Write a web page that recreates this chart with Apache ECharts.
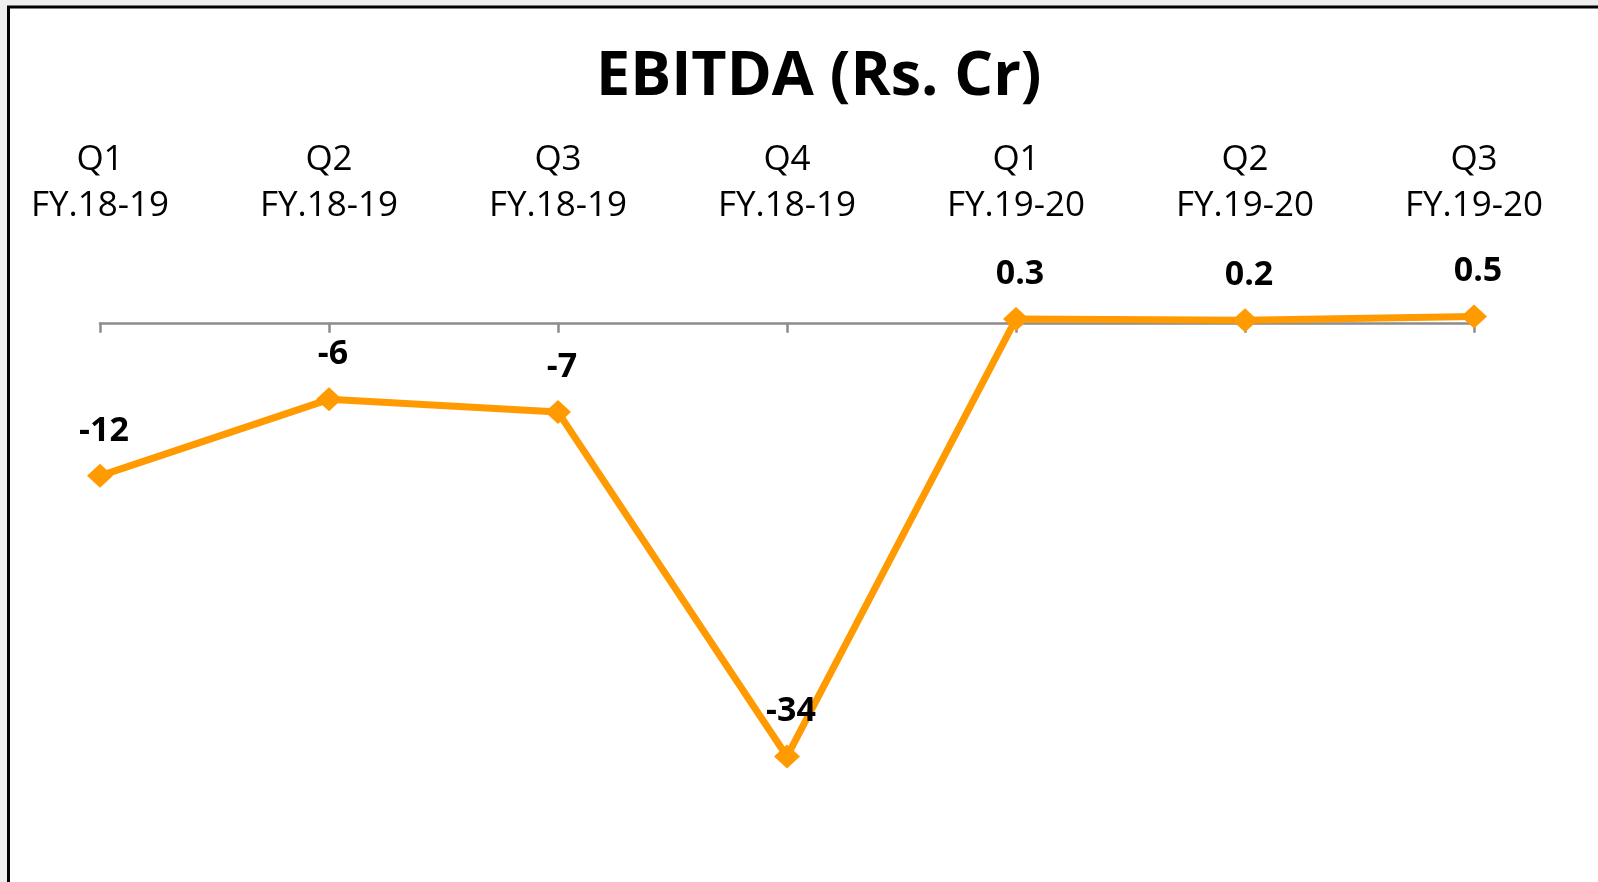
<!DOCTYPE html>
<html>
<head>
<meta charset="utf-8">
<title>EBITDA (Rs. Cr)</title>
<script src="https://cdn.jsdelivr.net/npm/echarts@6/dist/echarts.min.js"></script>
<style>
  html, body { margin: 0; padding: 0; background: #eeeeee; }
  #chart { width: 1598px; height: 882px; }
</style>
</head>
<body>
<div id="chart"></div>
<script>
// Quarterly EBITDA, Rs. crore
const quarters = ['Q1', 'Q2', 'Q3', 'Q4', 'Q1', 'Q2', 'Q3'];
const fiscalYears = ['FY.18-19', 'FY.18-19', 'FY.18-19', 'FY.18-19', 'FY.19-20', 'FY.19-20', 'FY.19-20'];
const ebitda = [-12, -6, -7, -34, 0.3, 0.2, 0.5];

const categories = quarters.map((q, i) => q + '\n' + fiscalYears[i]);

const chart = echarts.init(document.getElementById('chart'), null, { renderer: 'canvas' });

chart.setOption({
  backgroundColor: '#eeeeee',
  animation: false,
  graphic: [{
    type: 'rect',
    z: -10,
    shape: { x: 8.5, y: 7, width: 1700, height: 1000 },
    style: { fill: '#ffffff', stroke: '#000000', lineWidth: 3 }
  }],
  title: {
    text: 'EBITDA (Rs. Cr)',
    left: 596,
    top: 47,
    padding: 0,
    textStyle: {
      fontFamily: 'Open Sans',
      fontWeight: 'bold',
      fontSize: 61,
      color: '#000000'
    }
  },
  grid: { left: 100, right: 124, top: 259, bottom: 49, containLabel: false },
  xAxis: [
    {
      // axis line and ticks sitting on zero
      type: 'category',
      data: categories,
      boundaryGap: false,
      position: 'bottom',
      axisLine: { onZero: true, lineStyle: { color: '#8c8c8c', width: 2.5 } },
      axisTick: { show: true, length: 10, lineStyle: { color: '#8c8c8c', width: 2.5 } },
      axisLabel: { show: false },
      splitLine: { show: false }
    },
    {
      // category labels along the top
      type: 'category',
      data: categories,
      boundaryGap: false,
      position: 'top',
      axisLine: { show: false, onZero: false },
      axisTick: { show: false },
      axisLabel: {
        show: true,
        margin: 30,
        fontFamily: 'Open Sans',
        fontSize: 35,
        lineHeight: 46,
        color: '#000000',
        align: 'center'
      },
      splitLine: { show: false }
    }
  ],
  yAxis: {
    type: 'value',
    min: -40,
    max: 5,
    show: false,
    splitLine: { show: false }
  },
  series: [{
    type: 'line',
    data: ebitda,
    xAxisIndex: 0,
    lineStyle: { color: '#ff9a00', width: 7 },
    itemStyle: { color: '#ff9a00' },
    symbol: 'diamond',
    symbolSize: [26, 24],
    showAllSymbol: true,
    label: {
      show: true,
      position: 'top',
      distance: 16,
      offset: [4, 0],
      fontFamily: 'Open Sans',
      fontWeight: 'bold',
      fontSize: 34,
      color: '#000000',
      formatter: p => String(p.value)
    }
  }]
});
</script>
</body>
</html>
